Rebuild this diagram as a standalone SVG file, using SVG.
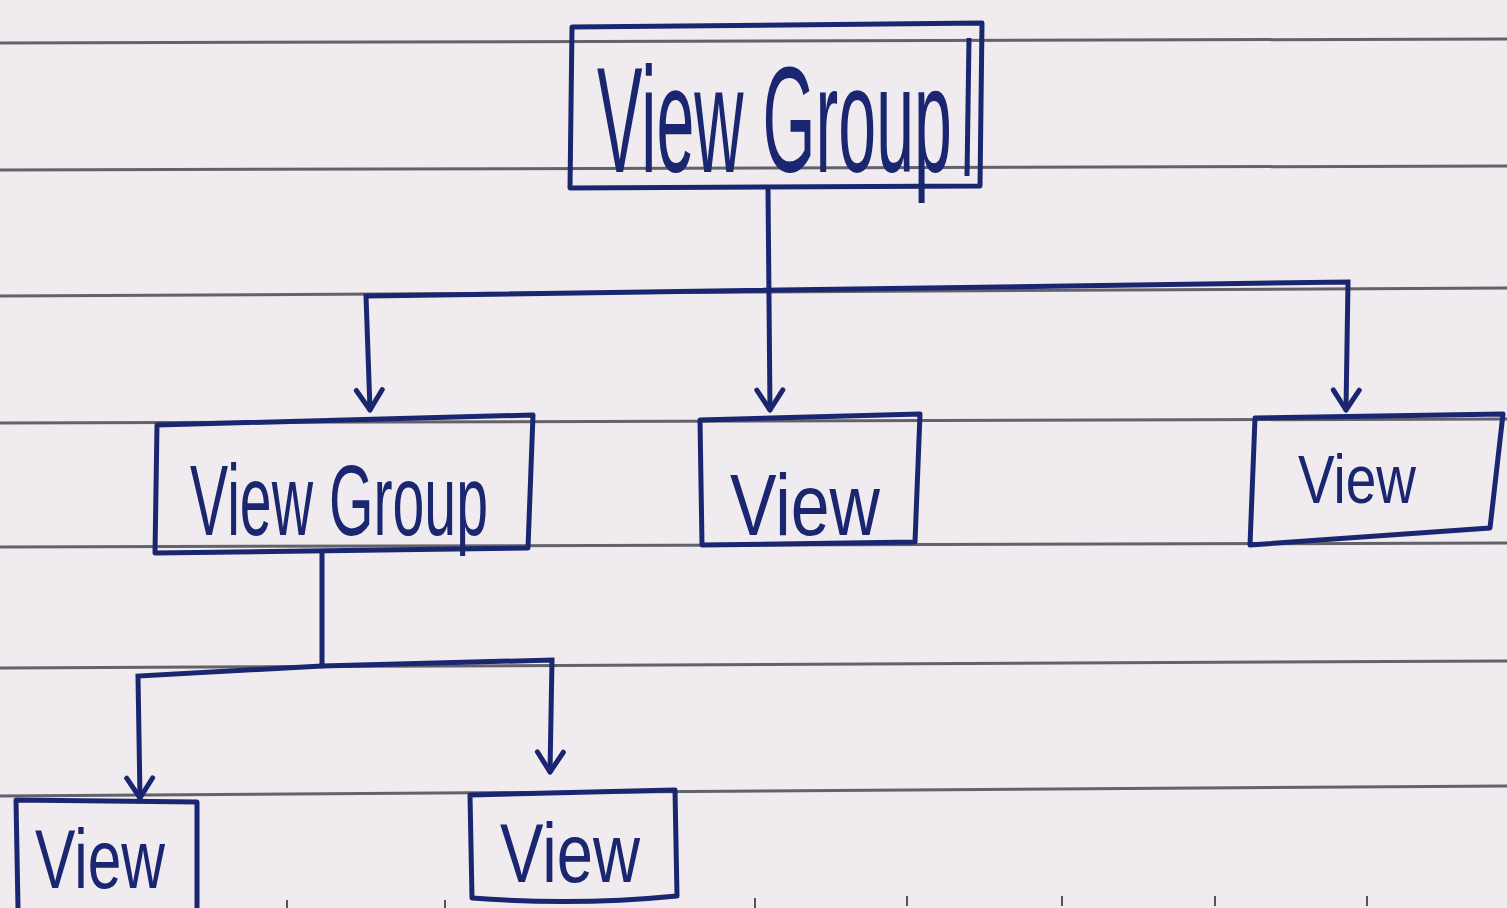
<svg xmlns="http://www.w3.org/2000/svg" width="1507" height="908" viewBox="0 0 1507 908">
<defs>
<style>
.paper{fill:#efebee}
.rule{stroke:#4a4a52;stroke-width:3;fill:none;opacity:0.85}
.box{fill:none;stroke:#1b2670;stroke-width:5;stroke-linejoin:round}
.conn{fill:none;stroke:#1b2670;stroke-width:5;stroke-linecap:round}
.lbl{font-family:"Liberation Sans","DejaVu Sans",sans-serif;fill:#1b2670;font-weight:normal}
.tick{stroke:#555;stroke-width:2}
</style>
<marker id="arr" viewBox="0 0 26 32" refX="23" refY="16" markerWidth="26" markerHeight="32" markerUnits="userSpaceOnUse" orient="auto-start-reverse">
<path d="M3,3 L23,16 L3,29" fill="none" stroke="#1b2670" stroke-width="5" stroke-linecap="round" stroke-linejoin="round"/>
</marker>
</defs>
<rect class="paper" x="0" y="0" width="1507" height="908"/>
<g id="ruled-lines">
<line class="rule" x1="0" y1="43" x2="1507" y2="39"/>
<line class="rule" x1="0" y1="170" x2="1507" y2="166"/>
<line class="rule" x1="0" y1="296" x2="1507" y2="288"/>
<line class="rule" x1="0" y1="423" x2="1507" y2="419"/>
<line class="rule" x1="0" y1="547" x2="1507" y2="543"/>
<line class="rule" x1="0" y1="668" x2="1507" y2="661"/>
<line class="rule" x1="0" y1="796" x2="1507" y2="786"/>
<line class="tick" x1="287" y1="900" x2="287" y2="908"/>
<line class="tick" x1="445" y1="900" x2="445" y2="908"/>
<line class="tick" x1="755" y1="898" x2="755" y2="908"/>
<line class="tick" x1="907" y1="896" x2="907" y2="906"/>
<line class="tick" x1="1062" y1="896" x2="1062" y2="906"/>
<line class="tick" x1="1215" y1="896" x2="1215" y2="906"/>
<line class="tick" x1="1367" y1="896" x2="1367" y2="906"/>
</g>
<g id="connectors">
<line class="conn" x1="768" y1="188" x2="770" y2="410" marker-end="url(#arr)"/>
<polyline class="conn" points="370,410 366,296 1348,282 1346,410" marker-start="url(#arr)" marker-end="url(#arr)"/>
<line class="conn" x1="322" y1="552" x2="322" y2="666"/>
<polyline class="conn" points="140,798 138,676 322,666 552,660 550,772" marker-start="url(#arr)" marker-end="url(#arr)"/>
</g>
<g id="node-top-viewgroup">
<path class="box" d="M572,27 L982,23 L980,186 L570,188 Z"/>
<path class="box" d="M969,38 L967,176" stroke-width="3"/>
<text class="lbl" x="597" y="172" font-size="150" textLength="355" lengthAdjust="spacingAndGlyphs">View Group</text>
</g>
<g id="node-mid-viewgroup">
<path class="box" d="M157,425 L533,415 L528,548 L155,553 Z"/>
<text class="lbl" x="190" y="535" font-size="100" textLength="298" lengthAdjust="spacingAndGlyphs">View Group</text>
</g>
<g id="node-mid-view">
<path class="box" d="M700,420 L920,414 L915,542 L702,545 Z"/>
<text class="lbl" x="730" y="535" font-size="88" textLength="150" lengthAdjust="spacingAndGlyphs">View</text>
</g>
<g id="node-right-view">
<path class="box" d="M1255,418 L1503,414 L1490,528 L1250,545 Z"/>
<text class="lbl" x="1298" y="503" font-size="68" textLength="118" lengthAdjust="spacingAndGlyphs">View</text>
</g>
<g id="node-bottom-left-view">
<path class="box" d="M18,908 L16,800 L197,802 L197,908"/>
<text class="lbl" x="35" y="888" font-size="84" textLength="130" lengthAdjust="spacingAndGlyphs">View</text>
</g>
<g id="node-bottom-mid-view">
<path class="box" d="M472,898 L470,795 L675,790 L677,896 Q575,906 472,898 Z"/>
<text class="lbl" x="500" y="882" font-size="84" textLength="140" lengthAdjust="spacingAndGlyphs">View</text>
</g>
</svg>
